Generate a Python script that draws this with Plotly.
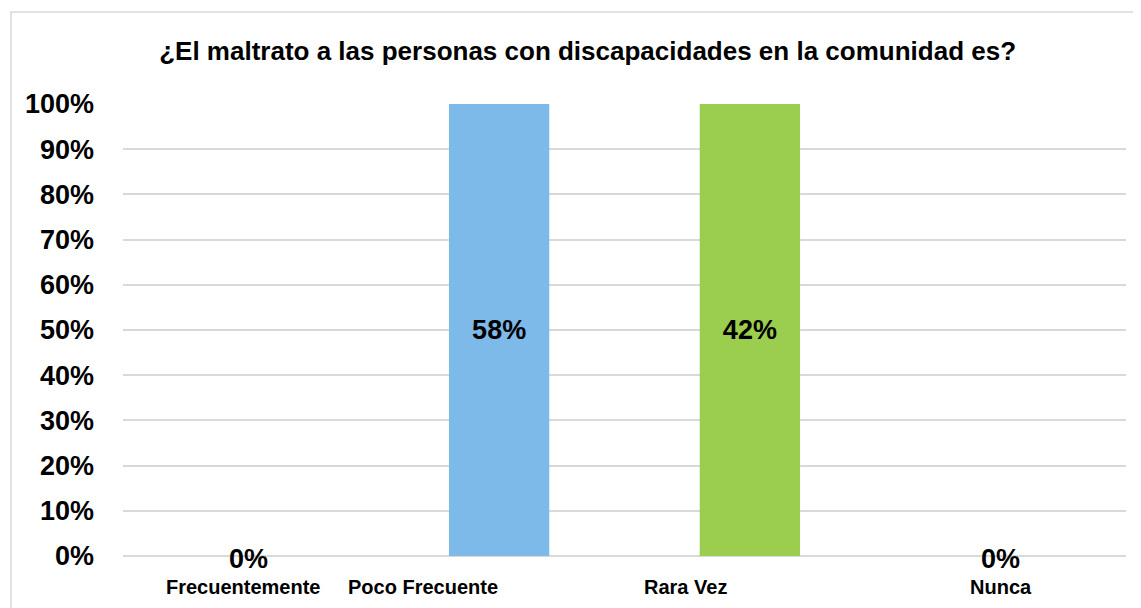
import plotly.graph_objects as go

categorias = ["Frecuentemente", "Poco Frecuente", "Rara Vez", "Nunca"]
valores = [0.0, 0.58, 0.42, 0.0]
colores = ["#7DB9E9", "#7DB9E9", "#9BCE4E", "#7DB9E9"]
etiquetas = ["{:.0%}".format(v) for v in valores]
ticks_y = [0, 0.1, 0.2, 0.3, 0.4, 0.5, 0.6, 0.7, 0.8, 0.9, 1.0]

fuente = "Liberation Sans, Arial, sans-serif"

fig = go.Figure()

# Excel-like 100% stacked column: each non-zero column fills the axis
fig.add_trace(go.Bar(
    x=categorias,
    y=valores,
    marker=dict(color=colores, line=dict(width=0)),
    text=etiquetas,
    textposition="inside",
    insidetextanchor="middle",
    textangle=0,
    constraintext="none",
    textfont=dict(family=fuente, size=27, color="black", weight="bold"),
    hoverinfo="skip",
))

# labels for empty categories sit on the base line
for c, v, t in zip(categorias, valores, etiquetas):
    if v == 0:
        fig.add_annotation(
            x=c, y=v, xref="x", yref="y", yshift=-3, showarrow=False,
            text="<b>" + t + "</b>",
            font=dict(family=fuente, size=27, color="black"),
        )

# category labels, shifted the way the original chart has them
desplaz = [-5, -76, -64, 0]
for c, dx in zip(categorias, desplaz):
    fig.add_annotation(
        x=c, y=0, yref="y", xref="x", yshift=-31, xshift=dx,
        text="<b>" + c + "</b>", showarrow=False,
        font=dict(family=fuente, size=20, color="black"),
    )

fig.add_shape(
    type="rect", xref="paper", yref="paper",
    x0=-0.1117, x1=1.03, y0=-0.3, y1=1.2035,
    line=dict(color="#D9D9D9", width=1.5), fillcolor="rgba(0,0,0,0)",
    layer="below",
)

# page body adds an 8px offset, margins compensate for it
fig.update_layout(
    width=1141, height=608,
    margin=dict(l=115, r=23, t=96, b=60),
    paper_bgcolor="white", plot_bgcolor="white",
    barmode="stack", barnorm="fraction", bargap=0.6,
    showlegend=False,
    title=dict(
        text="<b>¿El maltrato a las personas con discapacidades en la comunidad es?</b>",
        x=0.508, xanchor="center", y=0.93, yanchor="middle",
        font=dict(family=fuente, size=26, color="black"),
    ),
    xaxis=dict(showticklabels=False, showgrid=False, zeroline=False, showline=False, ticks=""),
    yaxis=dict(
        range=[0, 1], tickvals=ticks_y, tickformat=".0%",
        showgrid=True, gridcolor="#D9D9D9", gridwidth=2,
        zeroline=True, zerolinecolor="#D9D9D9", zerolinewidth=2,
        showline=False, ticks="", ticklabelstandoff=28,
        tickfont=dict(family=fuente, size=27, color="black", weight="bold"),
    ),
)

fig.write_html("out.html")
